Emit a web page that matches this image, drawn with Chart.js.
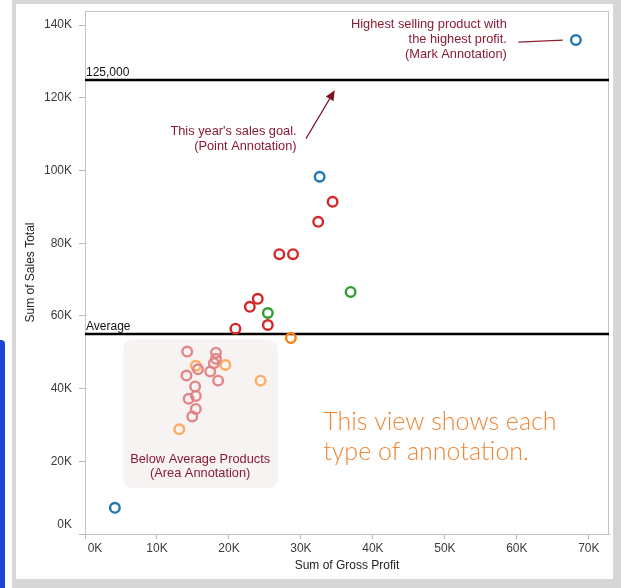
<!DOCTYPE html>
<html>
<head>
<meta charset="utf-8">
<script src="https://cdn.jsdelivr.net/npm/chart.js@4"></script>
<style>
  html, body { margin: 0; padding: 0; background: #fff; }
  #wrap { position: relative; width: 621px; height: 588px; overflow: hidden; }
  #frame { position: absolute; left: 12px; top: 0; width: 609px; height: 588px; background: #d6d6d6; }
  #panel { position: absolute; left: 16px; top: 4px; width: 597px; height: 575px; background: #fff; }
  #bluebar { position: absolute; left: 0; top: 340px; width: 5px; height: 250px; background: #1a44d6; border-top-right-radius: 4px; }
  #chart { position: absolute; left: 0; top: 0; }
</style>
</head>
<body>
<div id="wrap">
  <div id="frame"></div>
  <div id="panel"></div>
  <div id="bluebar"></div>
  <canvas id="chart" width="621" height="588"></canvas>
</div>
<script>
// Sum of Gross Profit (x) vs Sum of Sales Total (y), one pair of arrays per colour group
const blueProfit = [68200, 32600, 4150];
const blueSales = [135900, 98300, 7200];

const redProfit = [34400, 32400, 27000, 28900, 24000, 22900, 20900, 25400];
const redSales = [91400, 85900, 77000, 77000, 64700, 62500, 56500, 57500];

const greenProfit = [25400, 36900];
const greenSales = [60800, 66600];

const orangeProfit = [28600];
const orangeSales = [53900];

// points inside the "Below Average Products" area (faded)
const pinkProfit = [14200, 18200, 17900, 18200, 17400, 15700, 14100, 18500, 15300, 15400, 14400, 15400, 14900];
const pinkSales = [50200, 49900, 47000, 48200, 44700, 45300, 43600, 42200, 40600, 38000, 37200, 34400, 32300];

const lightOrangeProfit = [15400, 19500, 24400, 13100];
const lightOrangeSales = [46300, 46500, 42200, 28800];

const xTicks = [0, 10000, 20000, 30000, 40000, 50000, 60000, 70000];
const yTicks = [0, 20000, 40000, 60000, 80000, 100000, 120000, 140000];

const salesGoal = 125000;
const salesAverage = 55000;

const FONT = "'Liberation Sans', Arial, sans-serif";
const NOTE = '#8a1c34';
const NOTE_FONT = '12.8px ' + FONT;

function pts(xs, ys) {
    return xs.map((x, i) => ({ x: x, y: ys[i] }));
}

function ring(color, xs, ys) {
    return {
        data: pts(xs, ys),
        borderColor: color,
        backgroundColor: 'rgba(0,0,0,0)',
        borderWidth: 2.4,
        pointRadius: 4.8,
        pointHoverRadius: 4.8
    };
}

function kLabel(v) {
    return (v / 1000) + 'K';
}

// keep the plot box where the original has it, whatever the labels need
function noScalePadding(s) {
    s.paddingTop = 0;
    s.paddingBottom = 0;
    s.paddingLeft = 0;
    s.paddingRight = 0;
}

/**
 * Annotations, reference lines and plot frame, placed through the scales
 */
const annotationPlugin = {
    id: 'annotations',
    beforeDatasetsDraw(chart) {
        const { ctx, chartArea: a, scales: { x, y } } = chart;
        ctx.save();

        // frame round the plot
        ctx.strokeStyle = '#c4c4c4';
        ctx.lineWidth = 1;
        ctx.strokeRect(a.left + 0.5, a.top + 0.5, a.right - a.left - 1, a.bottom - a.top);

        // area annotation box
        const bx1 = x.getPixelForValue(5300), bx2 = x.getPixelForValue(26800);
        const by1 = y.getPixelForValue(53500), by2 = y.getPixelForValue(12600);
        ctx.fillStyle = '#f7f3f3';
        ctx.beginPath();
        ctx.roundRect(bx1, by1, bx2 - bx1, by2 - by1, 9);
        ctx.fill();

        ctx.font = NOTE_FONT;
        ctx.fillStyle = NOTE;
        ctx.textAlign = 'center';
        ctx.textBaseline = 'middle';
        const acx = x.getPixelForValue(16000), acy = y.getPixelForValue(20600);
        ctx.fillText('Below Average Products', acx, acy);
        ctx.fillText('(Area Annotation)', acx, acy + 14);

        // reference lines
        [[salesGoal, '125,000'], [salesAverage, 'Average']].forEach(([v, label]) => {
            const py = Math.round(y.getPixelForValue(v));
            ctx.strokeStyle = '#000';
            ctx.lineWidth = 2.5;
            ctx.beginPath();
            ctx.moveTo(a.left, py);
            ctx.lineTo(a.right, py);
            ctx.stroke();
            ctx.fillStyle = '#111';
            ctx.textAlign = 'left';
            ctx.textBaseline = 'alphabetic';
            ctx.font = '12px ' + FONT;
            ctx.fillText(label, a.left + 1, py - 4);
        });

        ctx.restore();
    },
    afterDatasetsDraw(chart) {
        const { ctx, scales: { x, y } } = chart;
        ctx.save();
        ctx.font = NOTE_FONT;
        ctx.fillStyle = NOTE;
        ctx.textBaseline = 'middle';

        // mark annotation
        ctx.textAlign = 'right';
        const mx = x.getPixelForValue(58600), my = y.getPixelForValue(140300);
        ctx.fillText('Highest selling product with', mx, my);
        ctx.fillText('the highest profit.', mx, my + 15);
        ctx.fillText('(Mark Annotation)', mx, my + 30);
        const px = x.getPixelForValue(blueProfit[0]), py = y.getPixelForValue(blueSales[0]);
        ctx.strokeStyle = NOTE;
        ctx.lineWidth = 1.2;
        ctx.beginPath();
        ctx.moveTo(x.getPixelForValue(60200), py + 2);
        ctx.lineTo(px - 13, py);
        ctx.stroke();

        // point annotation
        const gx = x.getPixelForValue(29400), gy = y.getPixelForValue(110800);
        ctx.fillText("This year's sales goal.", gx, gy);
        ctx.fillText('(Point Annotation)', gx, gy + 15);
        const ax1 = x.getPixelForValue(30700), ay1 = y.getPixelForValue(108800);
        const ax2 = x.getPixelForValue(34700), ay2 = y.getPixelForValue(122100);
        const ang = Math.atan2(ay2 - ay1, ax2 - ax1);
        ctx.strokeStyle = '#7c1626';
        ctx.fillStyle = '#7c1626';
        ctx.lineWidth = 1.2;
        ctx.beginPath();
        ctx.moveTo(ax1, ay1);
        ctx.lineTo(ax2 - 6 * Math.cos(ang), ay2 - 6 * Math.sin(ang));
        ctx.stroke();
        ctx.beginPath();
        ctx.moveTo(ax2, ay2);
        ctx.lineTo(ax2 - 10 * Math.cos(ang) + 4.5 * Math.sin(ang), ay2 - 10 * Math.sin(ang) - 4.5 * Math.cos(ang));
        ctx.lineTo(ax2 - 10 * Math.cos(ang) - 4.5 * Math.sin(ang), ay2 - 10 * Math.sin(ang) + 4.5 * Math.cos(ang));
        ctx.closePath();
        ctx.fill();

        // view caption
        ctx.fillStyle = '#ef8636';
        ctx.textAlign = 'left';
        ctx.font = "300 25px Lato, 'Open Sans', sans-serif";
        const tx = x.getPixelForValue(33100), ty = y.getPixelForValue(30800);
        ctx.fillText('This view shows each', tx, ty);
        ctx.fillText('type of annotation.', tx, ty + 30);

        ctx.restore();
    }
};

new Chart(document.getElementById('chart'), {
    type: 'scatter',
    data: {
        datasets: [
            ring('rgba(224,128,130,0.95)', pinkProfit, pinkSales),
            ring('rgba(255,166,90,0.95)', lightOrangeProfit, lightOrangeSales),
            ring('#d62728', redProfit, redSales),
            ring('#2ca02c', greenProfit, greenSales),
            ring('#ff7f0e', orangeProfit, orangeSales),
            ring('#1f77b4', blueProfit, blueSales)
        ]
    },
    options: {
        responsive: false,
        animation: false,
        events: [],
        layout: { padding: { left: 0, top: 11, right: 12, bottom: 0 } },
        plugins: {
            legend: { display: false },
            tooltip: { enabled: false }
        },
        scales: {
            x: {
                type: 'linear',
                min: 0,
                max: 72800,
                afterFit(s) { s.height = 54; noScalePadding(s); },
                afterBuildTicks(s) { s.ticks = xTicks.map(v => ({ value: v })); },
                ticks: {
                    autoSkip: false,
                    maxRotation: 0,
                    padding: 2,
                    color: '#3a3a3a',
                    font: { family: FONT, size: 12 },
                    // first label is nudged inside the axis like the original
                    callback: v => v === 0 ? '\u2007\u2007\u20070K' : kLabel(v)
                },
                grid: { drawOnChartArea: false, tickLength: 5, color: '#b8b8b8' },
                border: { color: '#b8b8b8' },
                title: {
                    display: true,
                    text: 'Sum of Gross Profit',
                    color: '#222',
                    font: { family: FONT, size: 12 },
                    padding: { top: 0, bottom: 15 }
                }
            },
            y: {
                type: 'linear',
                min: 0,
                max: 143900,
                afterFit(s) { s.width = 85; noScalePadding(s); },
                afterBuildTicks(s) { s.ticks = yTicks.map(v => ({ value: v })); },
                ticks: {
                    autoSkip: false,
                    padding: 7,
                    color: '#3a3a3a',
                    font: { family: FONT, size: 12, lineHeight: 1.6 },
                    callback: v => v === 0 ? ['0K', ''] : kLabel(v)
                },
                grid: { drawOnChartArea: false, tickLength: 6, color: '#b8b8b8' },
                border: { color: '#b8b8b8' },
                title: {
                    display: true,
                    text: 'Sum of Sales Total',
                    color: '#222',
                    font: { family: FONT, size: 12 },
                    padding: { top: 23, bottom: 0 }
                }
            }
        }
    },
    plugins: [annotationPlugin]
});
</script>
</body>
</html>
